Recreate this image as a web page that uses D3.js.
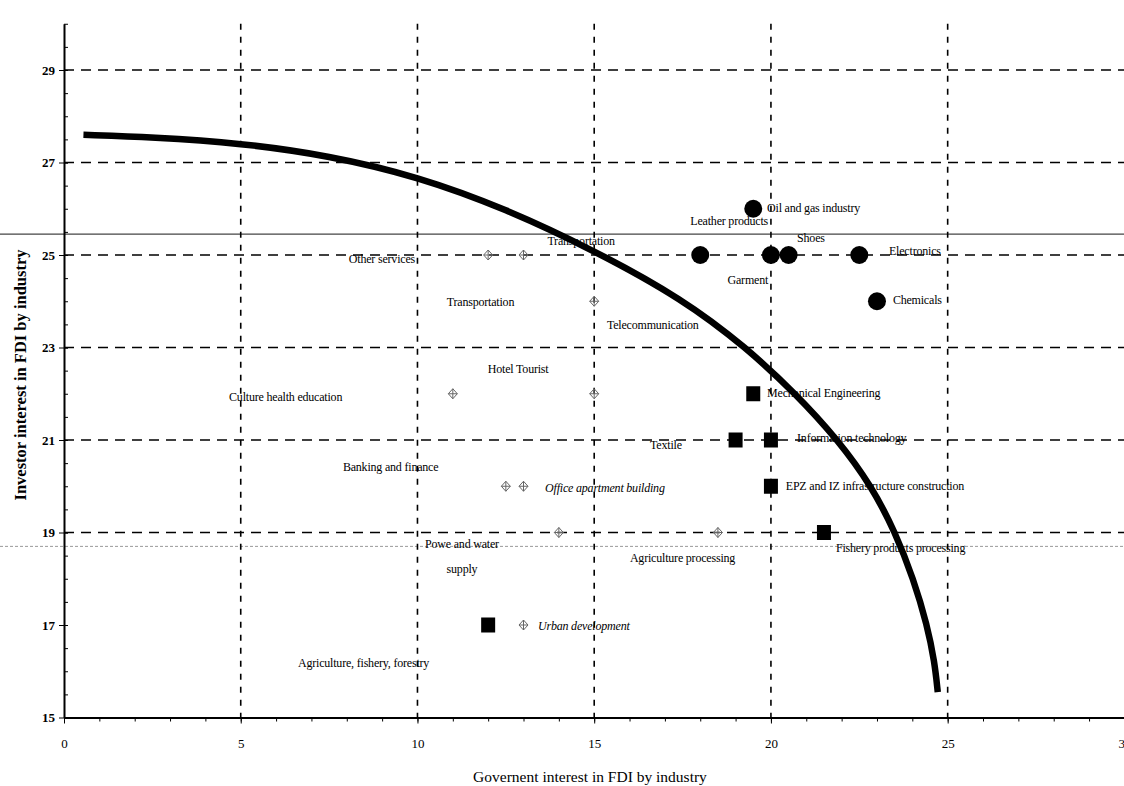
<!DOCTYPE html>
<html>
<head>
<meta charset="utf-8">
<script src="https://cdn.jsdelivr.net/npm/d3@7"></script>
<style>
  html, body { margin: 0; padding: 0; background: #fff; }
  svg { display: block; font-family: "Liberation Serif", "Times New Roman", serif; }
</style>
</head>
<body>
<svg id="chart" width="1124" height="786"></svg>
<script>
// Government interest (x) vs investor interest (y) in FDI, by industry

// Heavy industry / manufacturing (filled circles)
const circleGov = [19.5, 18, 20, 20.5, 22.5, 23];
const circleInv = [26, 25, 25, 25, 25, 24];

// Engineering, technology and processing (filled squares)
const squareGov = [19.5, 19, 20, 20, 21.5, 12];
const squareInv = [22, 21, 21, 20, 19, 17];

// Services and infrastructure (small open diamonds)
const diamondGov = [12, 13, 15, 11, 15, 12.5, 13, 14, 18.5, 13];
const diamondInv = [25, 25, 24, 22, 22, 20, 20, 19, 19, 17];

// Frontier curve, read point by point
const frontierGov = [0.55, 2.5, 5, 7.5, 10, 12.5, 15, 17.5, 19.3, 20.7, 21.9, 22.85, 23.52, 24.03, 24.42, 24.63, 24.72];
const frontierInv = [27.6, 27.55, 27.42, 27.15, 26.7, 26.0, 25.1, 24.05, 23.0, 22.0, 21.0, 20.0, 19.0, 18.0, 17.0, 16.2, 15.55];

// Axis ticks
const xTickValues = [0, 5, 10, 15, 20, 25, 30];
const yTickValues = [15, 17, 19, 21, 23, 25, 27, 29];
const xGridValues = [5, 10, 15, 20, 25];
const yGridValues = [19, 21, 23, 25, 27, 29];

// Thin rules running across the page
const ruleValues = [25.45, 18.7];

// Industry labels: text, x, y (data units), anchor, italic
const labels = [
  ["Oil and gas industry", 19.89, 26.02, "start", false],
  ["Leather products", 19.92, 25.74, "end", false],
  ["Transportation", 14.63, 25.30, "middle", false],
  ["Shoes", 20.74, 25.37, "start", false],
  ["Electronics", 23.34, 25.09, "start", false],
  ["Other services", 9.93, 24.91, "end", false],
  ["Garment", 19.92, 24.46, "end", false],
  ["Chemicals", 23.45, 24.03, "start", false],
  ["Transportation", 10.83, 23.99, "start", false],
  ["Telecommunication", 15.36, 23.49, "start", false],
  ["Hotel Tourist", 11.99, 22.54, "start", false],
  ["Culture health education", 4.67, 21.93, "start", false],
  ["Mechanical Engineering", 19.89, 22.02, "start", false],
  ["Textile", 16.58, 20.89, "start", false],
  ["Information technology", 20.74, 21.04, "start", false],
  ["Banking and finance", 7.89, 20.42, "start", false],
  ["Office apartment building", 13.61, 19.96, "start", true],
  ["EPZ and IZ infrastructure construction", 20.42, 20.0, "start", false],
  ["Powe and water", 11.26, 18.76, "middle", false],
  ["supply", 11.26, 18.21, "middle", false],
  ["Agriculture processing", 16.01, 18.45, "start", false],
  ["Fishery products processing", 21.84, 18.66, "start", false],
  ["Urban development", 13.41, 16.98, "start", true],
  ["Agriculture, fishery, forestry", 6.62, 16.18, "start", false]
];

const svg = d3.select("#chart");
const x = d3.scaleLinear().domain([0, 30]).range([64, 1124.4]);
const y = d3.scaleLinear().domain([15, 30]).range([717.5, 23.75]);

// Page rules
svg.append("g").selectAll("line").data(ruleValues).join("line")
  .attr("x1", 0).attr("x2", 1124)
  .attr("y1", d => y(d)).attr("y2", d => y(d))
  .attr("stroke", (d, i) => i === 0 ? "#444" : "#999")
  .attr("stroke-width", (d, i) => i === 0 ? 1.3 : 1)
  .attr("stroke-dasharray", (d, i) => i === 0 ? null : "3 2");

// Dashed grid
const grid = svg.append("g").attr("stroke", "#000").attr("fill", "none");
grid.selectAll(".h").data(yGridValues).join("line").attr("class", "h")
  .attr("x1", x(0)).attr("x2", 1124)
  .attr("y1", d => y(d)).attr("y2", d => y(d))
  .attr("stroke-width", 1.6).attr("stroke-dasharray", "10 7");
grid.selectAll(".v").data(xGridValues).join("line").attr("class", "v")
  .attr("x1", d => x(d)).attr("x2", d => x(d))
  .attr("y1", y(30)).attr("y2", y(15))
  .attr("stroke-width", 1.6).attr("stroke-dasharray", "6 7");

// X axis: unit minor ticks, labelled every 5
const xMinor = svg.append("g").attr("transform", `translate(0,${y(15)})`)
  .call(d3.axisBottom(x).tickValues(d3.range(0, 31, 1)).tickSize(4).tickSizeOuter(0).tickFormat(""));
xMinor.select(".domain").attr("stroke-width", 2);
const xMajor = svg.append("g").attr("transform", `translate(0,${y(15)})`)
  .call(d3.axisBottom(x).tickValues(xTickValues).tickSize(6).tickPadding(15).tickSizeOuter(0));
xMajor.select(".domain").remove();
xMajor.selectAll("text").attr("font-size", 13).attr("font-family", "Liberation Serif, serif").attr("fill", "#000");

// Y axis: half-unit minor ticks inside, labelled at odd values
const yMinor = svg.append("g").attr("transform", `translate(${x(0)},0)`)
  .call(d3.axisRight(y).tickValues(d3.range(15, 30.01, 0.5)).tickSize(4).tickSizeOuter(0).tickFormat(""));
yMinor.select(".domain").attr("stroke-width", 2);
const yMajor = svg.append("g").attr("transform", `translate(${x(0)},0)`)
  .call(d3.axisLeft(y).tickValues(yTickValues).tickSize(5).tickPadding(4).tickSizeOuter(0));
yMajor.select(".domain").remove();
yMajor.selectAll("line").attr("x2", -5).attr("x1", 4);
yMajor.selectAll("text").attr("font-size", 13).attr("font-weight", "bold")
  .attr("font-family", "Liberation Serif, serif").attr("fill", "#000");

// Axis titles
svg.append("text")
  .attr("transform", `translate(26,375) rotate(-90)`)
  .attr("text-anchor", "middle")
  .attr("font-size", 16.5).attr("font-weight", "bold")
  .text("Investor interest in FDI by industry");
svg.append("text")
  .attr("x", 590).attr("y", 782)
  .attr("text-anchor", "middle")
  .attr("font-size", 15.5)
  .text("Governent interest in FDI by industry");

// Frontier curve
const frontier = frontierGov.map((g, i) => [g, frontierInv[i]]);
svg.append("path")
  .datum(frontier)
  .attr("fill", "none").attr("stroke", "#000").attr("stroke-width", 6.5)
  .attr("d", d3.line().x(d => x(d[0])).y(d => y(d[1])).curve(d3.curveBasis));

// Diamonds
const diamondPath = "M0,-5L4.5,0L0,5L-4.5,0Z M-4.5,0H4.5 M0,-5V5";
svg.append("g").selectAll("path").data(diamondGov.map((g, i) => [g, diamondInv[i]])).join("path")
  .attr("transform", d => `translate(${x(d[0])},${y(d[1])})`)
  .attr("d", diamondPath)
  .attr("fill", "none").attr("stroke", "#666").attr("stroke-width", 1);

// Squares
svg.append("g").selectAll("rect").data(squareGov.map((g, i) => [g, squareInv[i]])).join("rect")
  .attr("x", d => x(d[0]) - 7).attr("y", d => y(d[1]) - 7.5)
  .attr("width", 14).attr("height", 15)
  .attr("fill", "#000");

// Circles
svg.append("g").selectAll("circle").data(circleGov.map((g, i) => [g, circleInv[i]])).join("circle")
  .attr("cx", d => x(d[0])).attr("cy", d => y(d[1]))
  .attr("r", 9).attr("fill", "#000");

// Industry labels
svg.append("g").selectAll("text").data(labels).join("text")
  .attr("x", d => x(d[1])).attr("y", d => y(d[2]))
  .attr("dy", "0.35em")
  .attr("text-anchor", d => d[3])
  .attr("font-style", d => d[4] ? "italic" : "normal")
  .attr("font-size", 12)
  .attr("letter-spacing", -0.2)
  .attr("fill", "#000")
  .text(d => d[0]);
</script>
</body>
</html>
